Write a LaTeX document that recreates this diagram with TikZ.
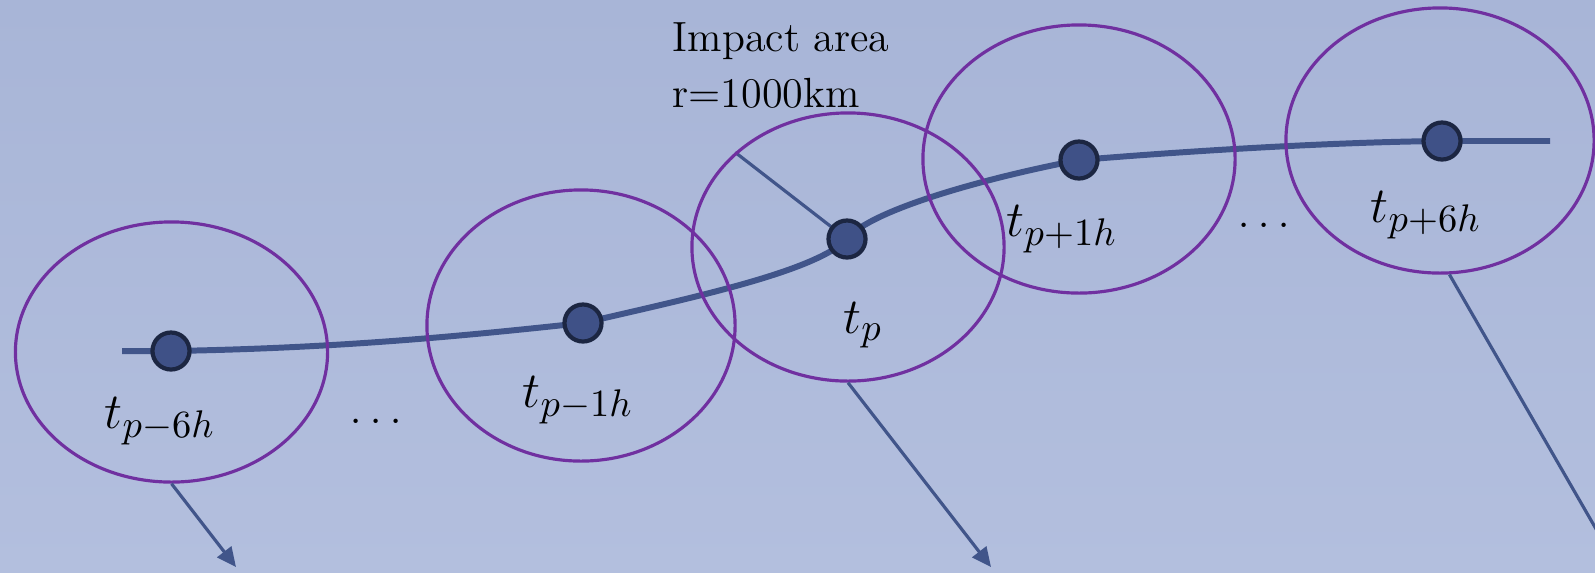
\documentclass[tikz,border=0pt]{standalone}
\usetikzlibrary{shapes.geometric,arrows.meta}
\pgfdeclarelayer{bg}
\pgfdeclarelayer{mid}
\pgfsetlayers{bg,mid,main}
\definecolor{bgtop}{HTML}{A8B5D7}
\definecolor{bgmid}{HTML}{9EACD1}
\definecolor{bgbot}{HTML}{B3BFDE}
\definecolor{ringc}{HTML}{7030A0}
\definecolor{trk}{HTML}{41558A}
\definecolor{dotfill}{HTML}{3F5187}
\definecolor{dotline}{HTML}{1C2642}
\newcommand{\threedots}{.\kern0.13em.\kern0.13em.}
\begin{document}
\begin{tikzpicture}[x=0.01cm,y=-0.01cm,
  ring/.style={ellipse,draw=ringc,line width=0.9pt,inner sep=0pt},
  pt/.style={circle,fill=dotfill,draw=dotline,line width=1.2pt,minimum size=0.37cm,inner sep=0pt},
  lab/.style={font=\fontsize{15}{18}\selectfont,anchor=base,inner sep=0pt},
  track/.style={draw=trk,line width=1.7pt},
  radius/.style={draw=trk,line width=0.9pt},
  pointer/.style={draw=trk,line width=0.9pt,-{Triangle[length=5.5pt,width=5pt]}}]
\useasboundingbox (0,0) rectangle (1595,572);
\clip (0,0) rectangle (1595,572);
\begin{pgfonlayer}{bg}
\shade[top color=bgtop,middle color=bgmid,bottom color=bgbot] (0,0) rectangle (1595,572);
\end{pgfonlayer}

% impact areas
\node[ring,minimum width=3.12cm,minimum height=2.60cm] (e1) at (171.5,352) {};
\node[ring,minimum width=3.08cm,minimum height=2.71cm] (e2) at (581,325.5) {};
\node[ring,minimum width=3.12cm,minimum height=2.68cm] (e3) at (848,247) {};
\node[ring,minimum width=3.12cm,minimum height=2.68cm] (e4) at (1079,159) {};
\node[ring,minimum width=3.08cm,minimum height=2.65cm] (e5) at (1440,140.5) {};

% track points
\node[pt] (d1) at (171,351) {};
\node[pt] (d2) at (583,323) {};
\node[pt] (d3) at (847,239) {};
\node[pt] (d4) at (1079,160) {};
\node[pt] (d5) at (1442,141) {};
\coordinate (s) at (122,351);
\coordinate (f) at (1550,141);

\begin{pgfonlayer}{mid}
\draw[track] (s) -- (d1.center)
  .. controls (350,348) and (480,334) .. (d2.center)
  .. controls (690,298) and (815,272) .. (d3.center)
  .. controls (870,210) and (985,178) .. (d4.center)
  .. controls (1200,150) and (1340,142) .. (d5.center) -- (f);
\draw[radius] (d3.center) -- (e3.140);
\end{pgfonlayer}

% labels
\node[lab] (l1) at (160,428) {$t_{p-6h}$};
\node[lab] (l2) at (578,407) {$t_{p-1h}$};
\node[lab] (l3) at (863,333) {$t_p$};
\node[lab] (l4) at (1062,236) {$t_{p+1h}$};
\node[lab] (l5) at (1426,222) {$t_{p+6h}$};
\node[lab] (el1) at (376,423) {\threedots};
\node[lab] (el2) at (1264,227) {\threedots};
\node[anchor=north west,align=left,inner sep=0pt,font=\fontsize{12}{16}\selectfont] (ia) at (672,22) {Impact area\\r=1000km};

% pointers
\coordinate (a1) at (236,567);
\coordinate (a2) at (991,567);
\coordinate (a3) at (1660,640);
\draw[pointer] (e1.south) -- (a1);
\draw[pointer] (e3.south) -- (a2);
\draw[pointer] (e5.-86) -- (a3);
\end{tikzpicture}
\end{document}
